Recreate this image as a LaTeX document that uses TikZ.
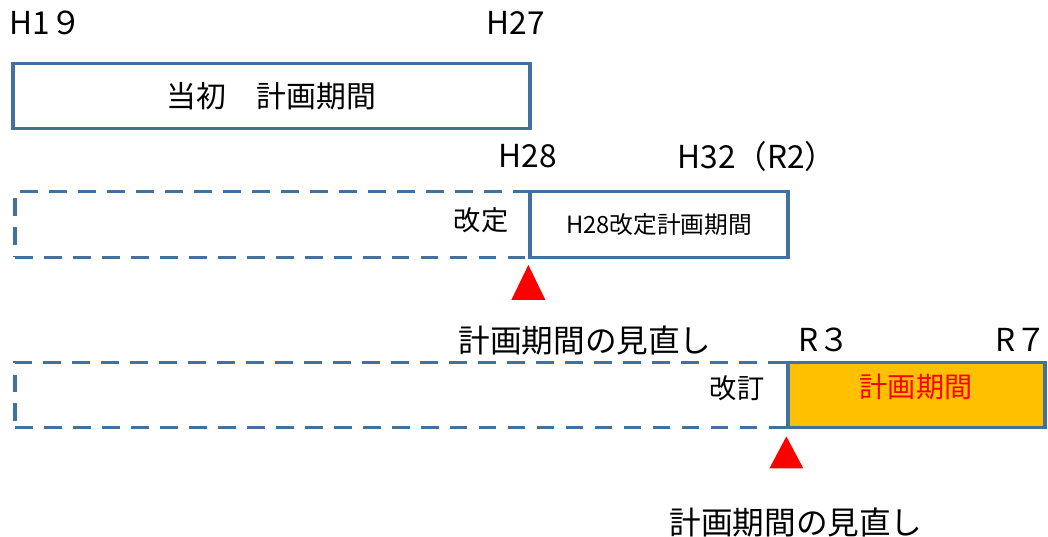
\documentclass[tikz,border=0pt]{standalone}
\usepackage{fontspec}
\setmainfont{Noto Sans CJK JP}
\usetikzlibrary{calc}
\definecolor{bord}{HTML}{41719C}
\definecolor{gold}{HTML}{FFC000}
\begin{document}
\begin{tikzpicture}[x=0.02cm,y=-0.02cm,
  box/.style={draw=bord,line width=1.9pt,minimum height=1.31cm,inner sep=0pt},
  dbox/.style={box,dash pattern=on 10pt off 6.5pt},
  lab/.style={font=\fontsize{18}{21}\selectfont,inner sep=0pt},
  mid/.style={font=\fontsize{15.5}{18}\selectfont,inner sep=0pt},
  tri/.style={fill=red,draw=none}]
\useasboundingbox (0,0) rectangle (1048,537);
% row 1
\node[box,minimum width=10.34cm,font=\fontsize{17}{20}\selectfont] (b1) at (271.5,96) {当初　計画期間};
\node[lab] (h19) at (46,23) {H1９};
\node[lab] (h27) at (516,23) {H27};
% row 2
\node[dbox,minimum width=10.3cm] (d2) at (272.5,224.5) {};
\node[box,minimum width=5.16cm,font=\fontsize{13.5}{16}\selectfont] (b2) at (659,224.5) {H28改定計画期間};
\node[mid] (kaitei1) at (481,220) {改定};
\node[lab] (h28) at (528,156) {H28};
\node[lab] (h32) at (757,156) {H32（R2）};
\fill[tri] ($(b2.south west)+(0,6)$) -- ++(-17,35) -- ++(34,0) -- cycle;
% row 3
\node[dbox,minimum width=15.46cm] (d3) at (401.5,395) {};
\node[box,fill=gold,minimum width=5.14cm] (b3) at (916.5,395) {};
\node[font=\fontsize{16}{19}\selectfont,inner sep=0pt,text=red] (plan) at (916,387) {計画期間};
\node[mid] (kaitei2) at (737,388) {改訂};
\node[lab] (mina1) at (585,340) {計画期間の見直し};
\node[lab] (r3) at (824,340) {R３};
\node[lab] (r7) at (1021,340) {R７};
\fill[tri] ($(b3.south west)+(0,7)$) -- ++(-17,32) -- ++(34,0) -- cycle;
\node[lab] (mina2) at (796,522) {計画期間の見直し};
\end{tikzpicture}
\end{document}
